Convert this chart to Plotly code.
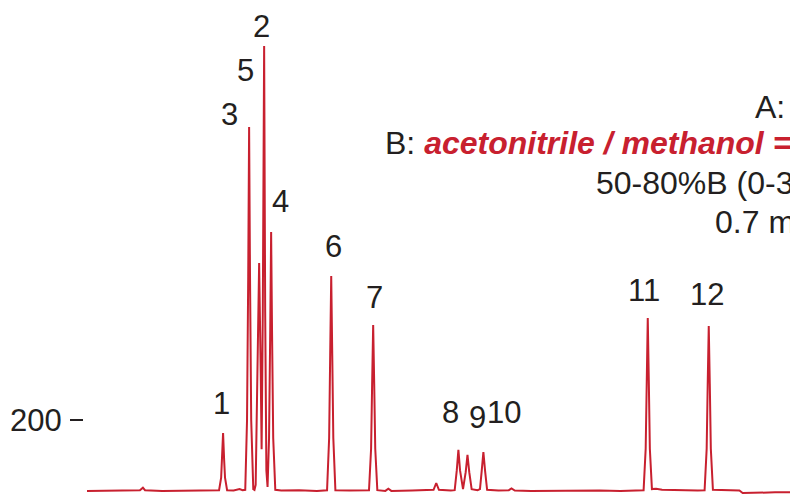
import plotly.graph_objects as go

# Chromatogram trace (retention time in min, detector signal)
time_min = [
    0.07, 1.0, 1.7, 1.85, 1.95, 2.02, 2.6, 3.2, 3.8, 4.4,
    4.51, 4.58, 4.61, 4.645, 4.68, 4.71, 4.78,
    5.0, 5.2, 5.3,
    5.39, 5.45, 5.49, 5.52, 5.55, 5.59, 5.66, 5.70,
    5.74, 5.80, 5.857, 5.91, 5.94,
    5.98, 6.025, 6.06, 6.10, 6.14,
    6.19, 6.23, 6.26, 6.29, 6.33, 6.40,
    6.6, 7.2, 7.8,
    8.14, 8.21, 8.245, 8.28, 8.315, 8.35, 8.42,
    8.9,
    9.55, 9.62, 9.655, 9.69, 9.725, 9.76, 9.83,
    10.1, 10.2, 10.3, 11.0, 11.6,
    11.72, 11.81, 11.9, 12.3,
    12.43, 12.5, 12.555, 12.61, 12.71,
    12.80, 12.86, 12.92, 13.0, 13.2,
    13.28, 13.34, 13.395, 13.45, 13.52,
    13.9, 14.25, 14.34, 14.45, 15.0, 15.8, 16.5, 17.3, 18.0, 18.6,
    18.78, 18.85, 18.885, 18.92, 18.955, 18.99, 19.06,
    19.2, 19.4, 20.0, 20.6,
    20.83, 20.90, 20.935, 20.97, 21.005, 21.04, 21.11,
    21.5, 22.0, 22.11, 22.5, 23.2, 24.0,
]
signal = [
    3, 4, 3, 5, 12, 5, 3, 4, 3, 4,
    5, 40, 90, 164, 90, 40, 5,
    4, 8, 5,
    6, 200, 600, 1014, 600, 200, 8, 6,
    20, 300, 636, 330, 119,
    500, 1239, 500, 60, 14,
    150, 450, 722, 450, 150, 6,
    4, 5, 3,
    5, 150, 380, 600, 380, 150, 5,
    4,
    5, 120, 300, 464, 300, 120, 5,
    3, 9, 3, 4, 4,
    6, 25, 6, 4,
    5, 60, 117, 60, 8,
    55, 103, 55, 8, 5,
    8, 60, 111, 60, 6,
    4, 5, 10, 4, 3, 4, 3, 4, 3, 4,
    5, 120, 310, 483, 310, 120, 8,
    9, 6, 4, 4,
    5, 120, 300, 461, 300, 120, 6,
    5, 4, -3, -2, -1, -1,
]

# Labelled peaks
peak_names = ["1", "3", "5", "2", "4", "6", "7", "8", "9", "10", "11", "12"]
peak_times = [4.645, 5.52, 5.857, 6.025, 6.26, 8.28, 9.69, 12.555, 12.86, 13.395, 18.92, 20.97]
peak_heights = [164, 1014, 636, 1239, 722, 600, 464, 117, 103, 111, 483, 461]

y_tick_vals = [200]
y_tick_text = ["200"]

# label offsets in pixels (layout only)
label_shift = [(-2, 29), (-20, 12), (-14, 193), (-3, 19), (9, 31), (2, 30),
               (1, 27), (-8, 37), (10, 37), (21, 40), (-4, 28), (-2, 32)]

RED = "#c8202f"
DARK = "#231f20"
FONT = "Liberation Sans, Arial, Helvetica, sans-serif"

# page has an 8px body margin
OFF = 8
FIG_W, FIG_H = 798, 495 - OFF
LEFT = 84 - OFF
RIGHT = 8
W = FIG_W - LEFT - RIGHT

fig = go.Figure()
fig.add_trace(go.Scatter(x=time_min, y=signal, mode="lines",
                         line=dict(color=RED, width=2), hoverinfo="skip"))

for name, t, h, (dx, dy) in zip(peak_names, peak_times, peak_heights, label_shift):
    fig.add_annotation(x=t, y=h, text=name, showarrow=False, xshift=dx, yshift=dy,
                       xanchor="center", yanchor="middle",
                       font=dict(size=31, color=DARK, family=FONT))


def px(xp):
    return (xp - OFF - LEFT) / W


def py(yp):
    return (FIG_H - (yp - OFF)) / FIG_H


conds = [
    ("A: water", 753, 107),
    ("B: <b><i><span style='color:%s'>acetonitrile / methanol = 1/1</span></i></b>" % RED, 383, 143),
    ("50-80%B (0-30 min)", 594, 183),
    ("0.7 mL/min", 713, 222),
]
for txt, x0, y0 in conds:
    fig.add_annotation(xref="paper", yref="paper", x=px(x0), y=py(y0), text=txt,
                       showarrow=False, xanchor="left", yanchor="middle",
                       font=dict(size=32, color=DARK, family=FONT))

fig.update_layout(
    width=FIG_W, height=FIG_H,
    margin=dict(l=LEFT, r=RIGHT, t=0, b=0),
    paper_bgcolor="white", plot_bgcolor="white",
    showlegend=False,
    xaxis=dict(range=[-0.03, 23.97], showgrid=False, zeroline=False,
               showline=False, showticklabels=False, ticks=""),
    yaxis=dict(range=[-8.33, 1344.44], showgrid=False, zeroline=False,
               showline=False, tickvals=y_tick_vals, ticktext=y_tick_text,
               ticks="outside", ticklen=13, tickwidth=2, tickcolor=DARK,
               ticklabelstandoff=2,
               tickfont=dict(size=31, color=DARK, family=FONT)),
)

fig.write_html("out.html")
